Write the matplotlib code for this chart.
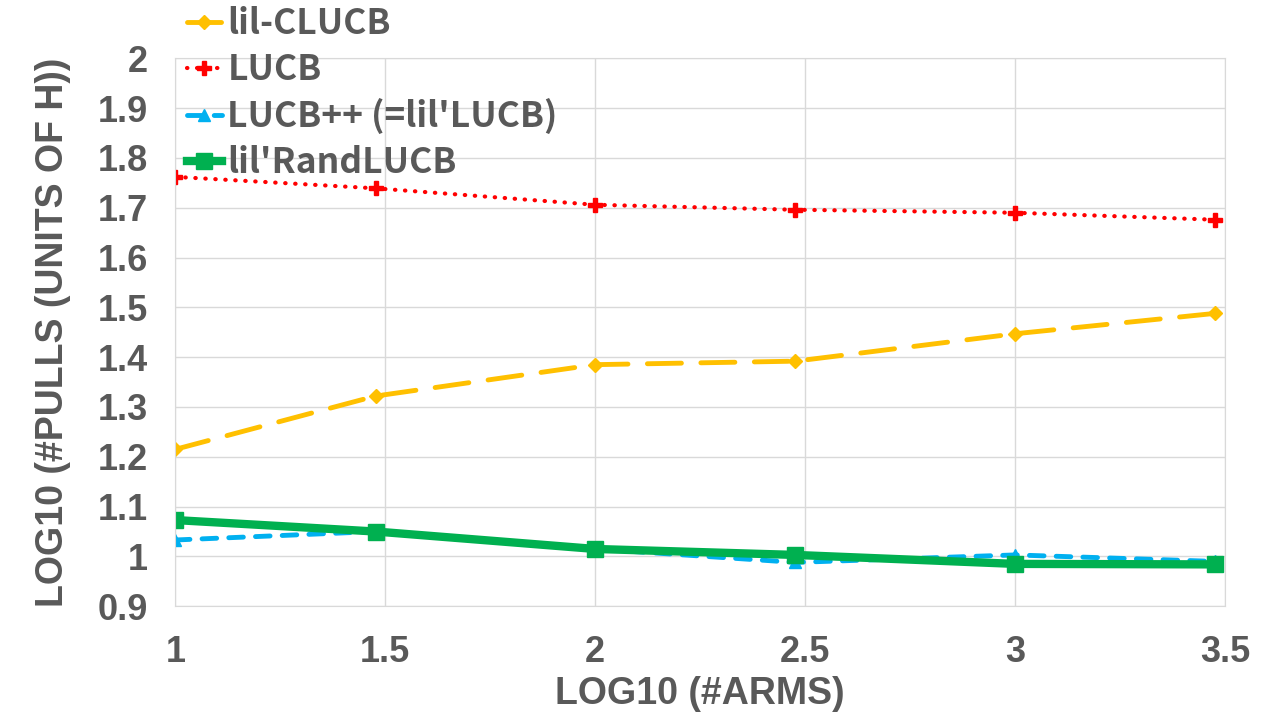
import matplotlib
matplotlib.use('Agg')
import matplotlib.pyplot as plt

log_arms = [1, 1.477, 2, 2.477, 3, 3.477]
lil_clucb = [1.215, 1.322, 1.385, 1.392, 1.447, 1.488]
lucb = [1.762, 1.739, 1.706, 1.696, 1.690, 1.676]
lucb_pp = [1.033, 1.050, 1.015, 0.988, 1.003, 0.990]
lil_rand = [1.073, 1.050, 1.015, 1.003, 0.985, 0.984]

grey = '#595959'
fig = plt.figure(figsize=(12.8, 7.2), dpi=100)
ax = fig.add_axes([0.137, 0.158, 0.82, 0.761])

ax.plot(log_arms, lil_clucb, color='#FFC000', lw=3.5, dashes=(7, 4), dash_capstyle='round',
        marker='D', ms=7, label='lil-CLUCB')
ax.plot(log_arms, lucb, color='#FF0000', lw=3, linestyle=(0, (0.1, 2.3)), dash_capstyle='round',
        marker='P', ms=10, label='LUCB')
ax.plot(log_arms, lucb_pp, color='#00B0F0', lw=3.5, dashes=(3, 2.5), dash_capstyle='round',
        marker='^', ms=9, label="LUCB++ (=lil'LUCB)")
ax.plot(log_arms, lil_rand, color='#00B050', lw=6, marker='s', ms=12,
        label="lil'RandLUCB")

ax.set_xlim(1, 3.5)
ax.set_ylim(0.9, 2)
ax.set_xticks([1, 1.5, 2, 2.5, 3, 3.5])
ax.set_xticklabels(['1', '1.5', '2', '2.5', '3', '3.5'])
ax.set_yticks([0.9, 1, 1.1, 1.2, 1.3, 1.4, 1.5, 1.6, 1.7, 1.8, 1.9, 2])
ax.set_yticklabels(['0.9', '1', '1.1', '1.2', '1.3', '1.4', '1.5', '1.6', '1.7', '1.8', '1.9', '2'])
ax.grid(color='#D9D9D9', lw=1)
ax.set_axisbelow(True)
for s in ax.spines.values():
    s.set_color('#D9D9D9')
ax.tick_params(length=0, labelsize=26, labelcolor=grey)
ax.tick_params(axis='y', pad=20)
ax.tick_params(axis='x', pad=21)
for lab in ax.get_xticklabels() + ax.get_yticklabels():
    lab.set_fontweight('bold')
    lab.set_family('Liberation Sans')

ax.set_xlabel('LOG10 (#ARMS)', fontsize=27, fontweight='bold', color=grey,
              family='Liberation Sans', labelpad=4)
ax.set_ylabel('LOG10 (#PULLS (UNITS OF H))', fontsize=27, fontweight='bold', color=grey,
              family='Liberation Sans', labelpad=19)

leg = fig.legend(loc='upper left', bbox_to_anchor=(0.121, 1.036), frameon=False,
                 prop={'family': 'Noto Sans CJK SC', 'size': 25.5, 'weight': 'bold'},
                 handlelength=1.0, handletextpad=0.15, labelspacing=0.31)
for t in leg.get_texts():
    t.set_color(grey)

fig.savefig('out.png', dpi=100)
